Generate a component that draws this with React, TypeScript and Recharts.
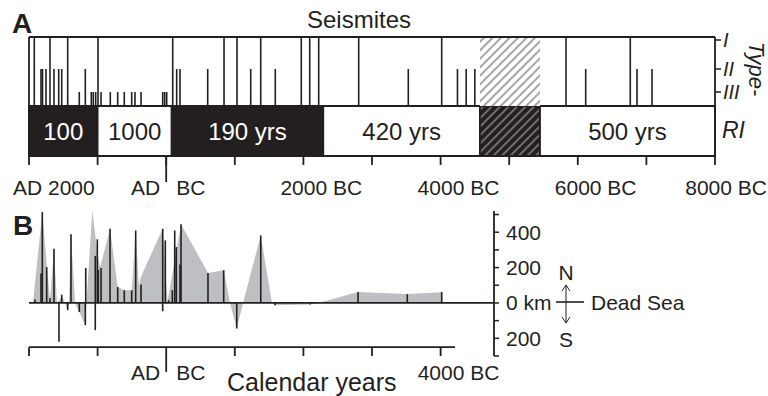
import React from "react";
import {
  ComposedChart,
  Area,
  XAxis,
  YAxis,
  ReferenceLine,
  ReferenceArea,
} from "recharts";

const ink = "#231f20";
const shade = "#bebfc2";
const font = '"Liberation Sans", Arial, Helvetica, sans-serif';

// x values are years before AD 2000
const yearTicks = [0, 1000, 2000, 3000, 4000, 5000, 6000, 7000, 8000, 9000, 10000];
const yearLabelsA = ["AD 2000", "", "AD|BC", "", "2000 BC", "", "4000 BC", "", "6000 BC", "", "8000 BC"];
const yearTicksB = [0, 1000, 2000, 3000, 4000, 5000, 6000];
const yearLabelsB = ["", "", "AD|BC", "", "", "", "4000 BC"];

// panel A: seismites (type I, II, III)
const seismiteAge = [
  77, 175, 197, 248, 306, 364, 433, 477, 564, 733, 821, 908, 937, 972, 1006, 1050,
  1185, 1293, 1389, 1497, 1545, 1633, 1949, 1978, 2007, 2095, 2153, 2201, 2605, 2843,
  3032, 3232, 3378, 3590, 3969, 4092, 4223, 4806, 5529, 6016, 6246, 6373, 6499, 7828,
  8115, 8765, 8863, 9082,
];
const seismiteType = [
  1, 2, 2, 2, 1, 2, 2, 2, 1, 3, 2, 3, 3, 3, 1, 3,
  3, 3, 3, 3, 3, 3, 3, 3, 3, 1, 2, 2, 2, 1,
  1, 2, 1, 2, 1, 1, 1, 1, 2, 1, 2, 2, 2, 1,
  2, 1, 2, 2,
];
const typeNames = ["I", "II", "III"];

// recurrence intervals
const riFrom = [0, 1000, 2080, 4290, 6574, 7449];
const riTo = [1000, 2080, 4290, 6574, 7449, 10000];
const riLabel = ["100", "1000", "190 yrs", "420 yrs", "", "500 yrs"];
const riKind = ["dark", "light", "dark", "light", "gap", "light"];

// panel B: epicentre distance from Dead Sea (km, + north / - south)
const eventAge = [
  87, 175, 194, 258, 306, 364, 437, 477, 564, 612, 733, 821, 827, 923, 966, 966,
  996, 1010, 1050, 1181, 1293, 1389, 1497, 1555, 1633, 1949, 1949, 1987, 2036, 2089,
  2124, 2147, 2201, 2216, 2609, 2838, 3028, 3378, 3586, 4096, 4796, 5514, 6016,
];
const eventKm = [
  19, 166, 514, 203, 27, 307, -220, 47, -41, 388, -51, -126, 198, 524, 266, -154,
  360, 186, 198, 420, 90, 72, 72, 410, 104, 420, -47, 354, 15, 72,
  410, 316, 217, 445, 170, 185, -145, 382, -13, -9, 62, 50, 62,
];
const shadeAge = [
  58, 194, 262, 306, 364, 408, 481, 525, 564, 583, 612, 671, 733, 821, 838, 923,
  991, 1035, 1181, 1293, 1389, 1497, 1555, 1603, 1633, 1949, 2019, 2216, 2609, 2838,
  2930, 3028, 3120, 3378, 3542, 3586, 4096, 4213, 4796, 5514, 6016,
];
const shadeKm = [
  0, 514, 200, 20, 300, 0, 40, 0, -41, 0, 388, 0, -51, -126, 0, 524,
  300, 200, 420, 90, 72, 72, 410, 95, 150, 420, 10, 445, 170, 185,
  0, -145, 0, 382, 0, -13, -9, 0, 62, 50, 60,
];
const kmTicks = [-300, -200, -100, 0, 100, 200, 300, 400, 500];
const kmLabels = ["", "200", "", "0 km", "", "200", "", "400", ""];

// layout of panel A's y scale (seismite line heights)
const typeHeight = [69, 37, 14];
const typeTickAt = [66, 37, 14];

const yearTick = (ticks: number[], labels: string[], dy: number, lastEnd: boolean) =>
  (props: any) => {
    const { x, y, payload } = props;
    const i = ticks.indexOf(payload.value);
    const label = labels[i] || "";
    const st = { fill: ink, fontSize: 21, fontFamily: font };
    if (!label) return <g />;
    if (label === "AD|BC")
      return (
        <g>
          <text x={x - 6} y={y + dy} textAnchor="end" {...st}>AD</text>
          <text x={x + 10} y={y + dy} textAnchor="start" {...st}>BC</text>
        </g>
      );
    if (label.startsWith("AD"))
      return <text x={x - 16} y={y + dy} textAnchor="start" {...st}>{label}</text>;
    if (lastEnd && i === ticks.length - 1)
      return <text x={x + 52} y={y + dy} textAnchor="end" {...st}>{label}</text>;
    return <text x={x - 23} y={y + dy} textAnchor="start" {...st}>{label}</text>;
  };

const TypeTick = (props: any) => {
  const { x, y, payload } = props;
  const i = typeTickAt.indexOf(payload.value);
  return (
    <text x={x} y={y + 7} textAnchor="start" fill={ink} fontSize={20} fontStyle="italic" fontFamily={font}>
      {typeNames[i]}
    </text>
  );
};

function PanelA() {
  const rows = seismiteAge.map((age, i) => ({ age, type: seismiteType[i] }));
  return (
    <ComposedChart width={768} height={200} data={rows} margin={{ top: 37, right: 0, bottom: 14, left: 29 }}>
      <XAxis
        type="number"
        dataKey="age"
        domain={[0, 10000]}
        ticks={yearTicks}
        interval={0}
        height={30}
        tickSize={9}
        tickMargin={0}
        allowDataOverflow
        axisLine={{ stroke: ink, strokeWidth: 1.8 }}
        tickLine={{ stroke: ink, strokeWidth: 1.8 }}
        tick={yearTick(yearTicks, yearLabelsA, 30, true)}
      />
      <YAxis
        orientation="right"
        type="number"
        domain={[-50, 69]}
        ticks={typeTickAt}
        interval={0}
        width={53}
        tickSize={6}
        tickMargin={2}
        allowDataOverflow
        axisLine={{ stroke: ink, strokeWidth: 1.8 }}
        tickLine={{ stroke: ink, strokeWidth: 1.5 }}
        tick={<TypeTick />}
      />
      {riFrom.map((from, i) => (
        <ReferenceArea
          key={"ri" + i}
          x1={from}
          x2={riTo[i]}
          y1={-50}
          y2={0}
          fill={riKind[i] === "dark" ? ink : riKind[i] === "gap" ? "url(#hatchDark)" : "#fff"}
          fillOpacity={1}
          stroke={ink}
          strokeWidth={1.8}
          label={{
            value: riLabel[i],
            position: "center",
            fill: riKind[i] === "dark" ? "#fff" : ink,
            fontSize: 24,
            fontFamily: font,
          }}
        />
      ))}
      {riKind.map((k, i) =>
        k === "gap" ? (
          <ReferenceArea
            key={"gapA" + i}
            x1={riFrom[i]}
            x2={riTo[i]}
            y1={0}
            y2={69}
            fill="url(#hatchLight)"
            fillOpacity={1}
            stroke="none"
          />
        ) : null
      )}
      <ReferenceLine y={69} stroke={ink} strokeWidth={1.8} />
      <ReferenceLine x={0} stroke={ink} strokeWidth={1.8} />
      {seismiteAge.map((age, i) => (
        <ReferenceLine
          key={"s" + i}
          segment={[
            { x: age, y: 0 },
            { x: age, y: typeHeight[seismiteType[i] - 1] },
          ]}
          stroke={ink}
          strokeWidth={1.6}
        />
      ))}
      <ReferenceLine
        segment={[
          { x: 2000, y: -50 },
          { x: 2000, y: -76 },
        ]}
        ifOverflow="visible"
        stroke={ink}
        strokeWidth={1.8}
      />
    </ComposedChart>
  );
}

function PanelB() {
  const rows = shadeAge.map((age, i) => ({ age, km: shadeKm[i] }));
  return (
    <ComposedChart width={768} height={196} data={rows} margin={{ top: 11, right: 214, bottom: 10, left: 29 }}>
      <XAxis
        type="number"
        dataKey="age"
        domain={[0, 6778]}
        ticks={yearTicksB}
        interval={0}
        height={30}
        tickSize={0}
        tickMargin={0}
        allowDataOverflow
        axisLine={false}
        tickLine={false}
        tick={yearTick(yearTicksB, yearLabelsB, 24, false)}
      />
      <YAxis
        orientation="right"
        type="number"
        domain={[-300, 520]}
        ticks={kmTicks}
        interval={0}
        width={60}
        tickSize={5}
        tickMargin={7}
        allowDataOverflow
        axisLine={{ stroke: ink, strokeWidth: 1.8 }}
        tickLine={{ stroke: ink, strokeWidth: 1.5 }}
        tick={{ fill: ink, fontSize: 21, fontFamily: font }}
        tickFormatter={(v: number) => kmLabels[kmTicks.indexOf(v)] || ""}
      />
      <Area
        type="linear"
        dataKey="km"
        baseValue={0}
        fill={shade}
        fillOpacity={1}
        stroke="none"
        isAnimationActive={false}
      />
      <ReferenceLine y={0} stroke={ink} strokeWidth={1.8} />
      {eventAge.map((age, i) => (
        <ReferenceLine
          key={"e" + i}
          segment={[
            { x: age, y: 0 },
            { x: age, y: eventKm[i] },
          ]}
          stroke={ink}
          strokeWidth={1.6}
        />
      ))}
      <ReferenceLine
        segment={[
          { x: 0, y: -250 },
          { x: 6210, y: -250 },
        ]}
        stroke={ink}
        strokeWidth={1.8}
      />
      {yearTicksB.map((t) => (
        <ReferenceLine
          key={"t" + t}
          segment={[
            { x: t, y: -250 },
            { x: t, y: t === 2000 ? -390 : -300 },
          ]}
          ifOverflow="visible"
          stroke={ink}
          strokeWidth={1.8}
        />
      ))}
    </ComposedChart>
  );
}

export default function App() {
  const txt = { fill: ink, fontFamily: font };
  return (
    <div style={{ position: "absolute", left: 0, top: 0, width: 768, height: 396, background: "#fff", fontFamily: font }}>
      <svg width={0} height={0} style={{ position: "absolute" }}>
        <defs>
          <pattern id="hatchLight" patternUnits="userSpaceOnUse" width={6} height={6} patternTransform="rotate(45)">
            <rect width={6} height={6} fill="#fff" />
            <line x1={3} y1={0} x2={3} y2={6} stroke={ink} strokeWidth={0.8} />
          </pattern>
          <pattern id="hatchDark" patternUnits="userSpaceOnUse" width={6} height={6} patternTransform="rotate(45)">
            <rect width={6} height={6} fill={ink} />
            <line x1={3} y1={0} x2={3} y2={6} stroke="#fff" strokeWidth={0.7} />
          </pattern>
        </defs>
      </svg>
      <div style={{ position: "absolute", left: 0, top: 0 }}>
        <PanelA />
      </div>
      <div style={{ position: "absolute", left: 0, top: 200 }}>
        <PanelB />
      </div>
      <svg width={768} height={396} style={{ position: "absolute", left: 0, top: 0, pointerEvents: "none" }}>
        <text x={12} y={33} fontSize={28} fontWeight="bold" {...txt}>A</text>
        <text x={13} y={235} fontSize={28} fontWeight="bold" {...txt}>B</text>
        <text x={359} y={28} fontSize={24} textAnchor="middle" {...txt}>Seismites</text>
        <text
          x={756}
          y={69}
          fontSize={22}
          fontStyle="italic"
          textAnchor="middle"
          dominantBaseline="central"
          transform="rotate(90 756 69)"
          {...txt}
        >
          Type-
        </text>
        <text x={722} y={138} fontSize={23} fontStyle="italic" {...txt}>RI</text>
        <text x={227} y={391} fontSize={25} {...txt}>Calendar years</text>
        <text x={566} y={280} fontSize={21} textAnchor="middle" {...txt}>N</text>
        <text x={566} y={347} fontSize={21} textAnchor="middle" {...txt}>S</text>
        <line x1={566} y1={285} x2={566} y2={323} stroke={ink} strokeWidth={1} />
        <polyline points="562,291 566,285 570,291" fill="none" stroke={ink} strokeWidth={1} />
        <polyline points="562,317 566,323 570,317" fill="none" stroke={ink} strokeWidth={1} />
        <line x1={556} y1={302} x2={584} y2={302} stroke={ink} strokeWidth={1.6} />
        <text x={591} y={310} fontSize={21} {...txt}>Dead Sea</text>
      </svg>
    </div>
  );
}
